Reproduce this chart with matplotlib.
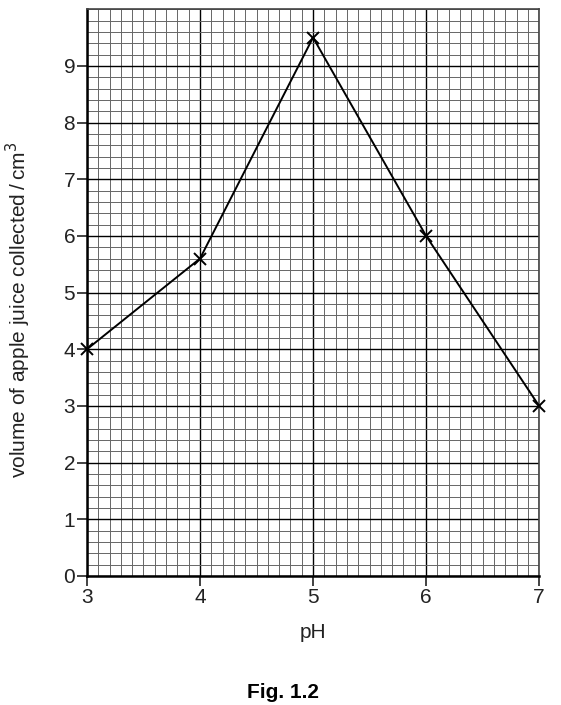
import matplotlib
matplotlib.use("Agg")
import matplotlib.pyplot as plt
from matplotlib.ticker import MultipleLocator

ph = [3, 4, 5, 6, 7]
volume = [4.0, 5.6, 9.5, 6.0, 3.0]
x_ticks = [3, 4, 5, 6, 7]
y_ticks = [0, 1, 2, 3, 4, 5, 6, 7, 8, 9]

plt.rcParams['font.family'] = ['Liberation Sans', 'DejaVu Sans']

fig = plt.figure(figsize=(5.61, 7.05), dpi=100)
ax = fig.add_axes([0.155, 0.183, 0.806, 0.804])

ax.set_xlim(3, 7)
ax.set_ylim(0, 10)
ax.set_xticks(x_ticks)
ax.set_yticks(y_ticks)
ax.xaxis.set_minor_locator(MultipleLocator(0.1))
ax.yaxis.set_minor_locator(MultipleLocator(0.2))

# graph paper
ax.grid(which='minor', color='#666666', linewidth=0.7)
ax.grid(which='major', color='black', linewidth=1.0)
ax.set_axisbelow(True)
ax.tick_params(which='minor', length=0)
ax.tick_params(which='major', length=7, width=1.2, direction='out',
               labelsize=15, colors='#222222', pad=1.5)

for s in ['left', 'bottom']:
    ax.spines[s].set_linewidth(1.8)
    ax.spines[s].set_color('black')
for s in ['top', 'right']:
    ax.spines[s].set_linewidth(1.2)
    ax.spines[s].set_color('#444444')

ax.plot(ph, volume, color='black', linewidth=1.4, marker='x',
        markersize=8, markeredgewidth=1.4, clip_on=False, zorder=5)

ax.set_xlabel('pH', fontsize=15, color='#222222', labelpad=12)
ax.set_ylabel('volume of apple juice collected\u2009/\u2009cm$^3$', fontsize=15,
              color='#222222')
ax.yaxis.set_label_coords(-0.12, 0.47)

fig.text(0.505, 0.0099, 'Fig. 1.2', ha='center', va='baseline',
         fontsize=15, fontweight='bold')

fig.savefig('out.png', dpi=100)
